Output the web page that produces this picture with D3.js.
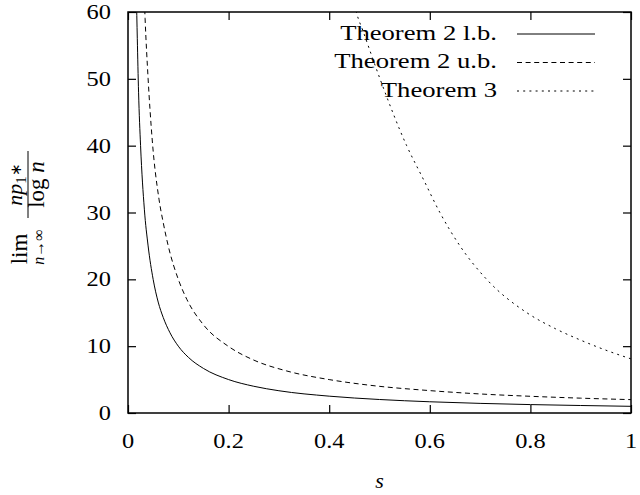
<!DOCTYPE html>
<html><head><meta charset="utf-8">
<script src="https://cdn.jsdelivr.net/npm/d3@7"></script>
<style>
html,body{margin:0;padding:0;background:#fff;}
</style></head>
<body>
<svg id="c" width="640" height="495" font-family="Liberation Serif, DejaVu Serif, serif"></svg>
<script>
// ---- data ----
const xTicks = [0, 0.2, 0.4, 0.6, 0.8, 1];
const xTickLabels = ["0", "0.2", "0.4", "0.6", "0.8", "1"];
const yTicks = [0, 10, 20, 30, 40, 50, 60];
const yTickLabels = ["0", "10", "20", "30", "40", "50", "60"];
const seriesNames = ["Theorem 2 l.b.", "Theorem 2 u.b.", "Theorem 3"];

const sLB = [0.0165, 0.0185, 0.021, 0.025, 0.0325, 0.04, 0.05, 0.06, 0.07, 0.0835, 0.1, 0.12, 0.15, 0.2, 0.25, 0.3, 0.4, 0.5, 0.6, 0.7, 0.8, 0.9, 1.0];
const lbVals = [63, 56, 48, 40, 30.5, 25, 20, 16.6, 14.3, 12, 10, 8.33, 6.67, 5.0, 4.0, 3.33, 2.52, 2.02, 1.68, 1.44, 1.26, 1.12, 1.0];

const sUB = [0.032, 0.034, 0.04, 0.048, 0.0616, 0.07, 0.08, 0.1, 0.117, 0.15, 0.2, 0.249, 0.315, 0.4, 0.481, 0.6, 0.7, 0.8, 0.9, 1.0];
const ubVals = [63, 59, 50, 41, 32, 28.5, 25, 20, 17, 13.2, 9.95, 7.95, 6.3, 5.0, 4.15, 3.35, 2.85, 2.5, 2.22, 2.0];

const sT3 = [0.448, 0.454, 0.468, 0.501, 0.554, 0.587, 0.620, 0.660, 0.713, 0.793, 0.85, 0.9, 0.95, 1.0];
const t3Vals = [62, 60, 57, 50, 40, 35, 30, 25, 20, 15, 12.6, 10.9, 9.4, 8.1];

// ---- layout ----
const FONT = "Liberation Serif";
const L = 128, R = 631, T = 12, B = 413;
const SX = 1.22;      // horizontal stretch of the glyphs
const svg = d3.select("#c");
const x = d3.scaleLinear().domain([0, 1]).range([L, R]);
const y = d3.scaleLinear().domain([0, 60]).range([B, T]);

svg.append("defs").append("clipPath").attr("id", "clip")
  .append("rect").attr("x", L).attr("y", T).attr("width", R - L).attr("height", B - T);

// ticks (mirrored, inward)
function styleAxis(g) {
  g.select(".domain").remove();
  g.selectAll(".tick line").attr("stroke", "#000").attr("stroke-width", 1.2);
  g.selectAll(".tick text").remove();
}
svg.append("g").attr("transform", `translate(0,${B})`)
  .call(d3.axisBottom(x).tickValues(xTicks).tickSize(-8)).call(styleAxis);
svg.append("g").attr("transform", `translate(0,${T})`)
  .call(d3.axisTop(x).tickValues(xTicks).tickSize(-8)).call(styleAxis);
svg.append("g").attr("transform", `translate(${L},0)`)
  .call(d3.axisLeft(y).tickValues(yTicks).tickSize(-8)).call(styleAxis);
svg.append("g").attr("transform", `translate(${R},0)`)
  .call(d3.axisRight(y).tickValues(yTicks).tickSize(-8)).call(styleAxis);

// text helper with horizontal stretch
function label(px, py, txt, anchor, size, sx) {
  return svg.append("text")
    .attr("transform", `translate(${px},${py}) scale(${sx || SX},1)`)
    .attr("font-family", FONT)
    .attr("text-anchor", anchor).attr("font-size", size).text(txt);
}
xTicks.forEach((v, i) => label(x(v), 448, xTickLabels[i], "middle", 20));
yTicks.forEach((v, i) => label(111, y(v) + 7, yTickLabels[i], "end", 20));

// curves
const line = d3.line().x(d => x(d[0])).y(d => y(d[1])).curve(d3.curveMonotoneX);
const series = [
  {s: sLB, v: lbVals, dash: null},
  {s: sUB, v: ubVals, dash: "5,3.6"},
  {s: sT3, v: t3Vals, dash: "2,4.2"}
];
const plot = svg.append("g").attr("clip-path", "url(#clip)");
series.forEach(sr => {
  const pts = sr.s.map((s, i) => [s, sr.v[i]]);
  plot.append("path").attr("d", line(pts)).attr("fill", "none")
    .attr("stroke", "#000").attr("stroke-width", 1)
    .attr("stroke-dasharray", sr.dash);
});

// legend
const legBase = [39.5, 68, 96.5];
seriesNames.forEach((n, i) => {
  label(497, legBase[i], n, "end", 21.5, 1.24);
  svg.append("line").attr("x1", 517).attr("x2", 595)
    .attr("y1", legBase[i] - 5.5).attr("y2", legBase[i] - 5.5)
    .attr("stroke", "#000").attr("stroke-width", 1)
    .attr("stroke-dasharray", series[i].dash);
});

// frame
svg.append("rect").attr("x", L).attr("y", T).attr("width", R - L).attr("height", B - T)
  .attr("fill", "none").attr("stroke", "#000").attr("stroke-width", 1.5);

// x label
svg.append("text").attr("x", (L + R) / 2).attr("y", 488).attr("text-anchor", "middle")
  .attr("font-family", FONT)
  .attr("font-size", 22).attr("font-style", "italic").text("s");

// y label: lim_{n→∞} np_{1*} / log n  (rotated)
const yl = svg.append("g").attr("transform", "rotate(-90)").attr("font-family", FONT);
yl.append("text").attr("x", -249).attr("y", 27).attr("text-anchor", "middle")
  .attr("font-family", FONT).attr("font-size", 23).text("lim");
const sub = yl.append("text").attr("x", -247).attr("y", 44).attr("text-anchor", "middle")
  .attr("font-family", FONT).attr("font-size", 16);
sub.append("tspan").attr("font-style", "italic").text("n");
sub.append("tspan").text("→∞");
yl.append("line").attr("x1", -218).attr("x2", -151).attr("y1", 28).attr("y2", 28)
  .attr("stroke", "#000").attr("stroke-width", 1);
const num = yl.append("text").attr("x", -184.5).attr("y", 21.5).attr("text-anchor", "middle")
  .attr("font-family", FONT).attr("font-size", 22);
num.append("tspan").attr("font-style", "italic").text("np");
num.append("tspan").attr("font-size", 15).attr("dy", 4).text("1");
num.append("tspan").attr("font-size", 15).attr("dy", -5).text("∗");
const den = yl.append("text").attr("x", -184.5).attr("y", 44).attr("text-anchor", "middle")
  .attr("font-family", FONT).attr("font-size", 23);
den.append("tspan").text("log ");
den.append("tspan").attr("font-style", "italic").text("n");
</script>
</body></html>
